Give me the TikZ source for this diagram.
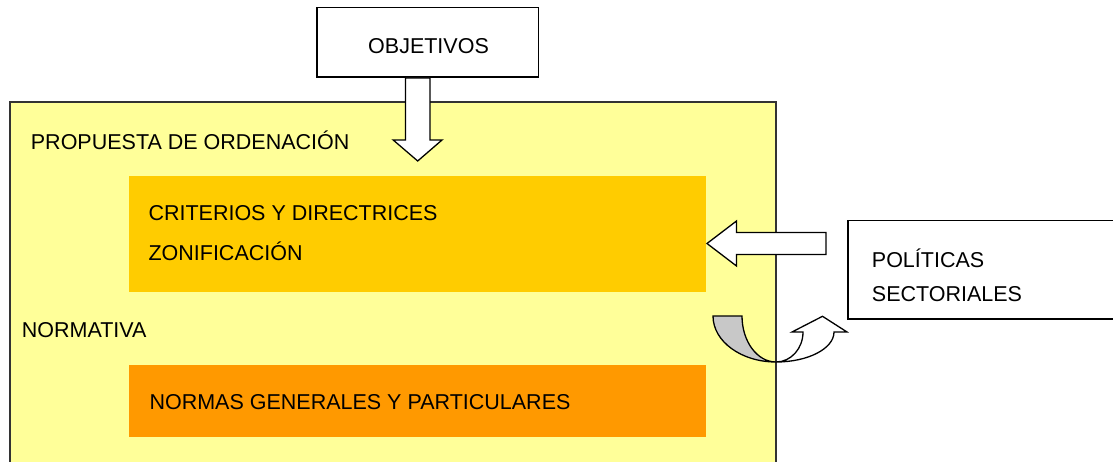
\documentclass[tikz,border=0pt]{standalone}
\usepackage{fontspec}
\setmainfont{Liberation Sans}
\definecolor{yellowfill}{HTML}{FFFF99}
\definecolor{critfill}{HTML}{FFCC00}
\definecolor{normfill}{HTML}{FF9900}
\definecolor{grayfill}{HTML}{C8C8C8}
\begin{document}
\begin{tikzpicture}[x=1pt,y=-1pt,
  lbl/.style={anchor=base west, inner sep=0pt, font=\fontsize{21.5}{25}\selectfont},
  area/.style={anchor=north west, inner sep=0pt, outer sep=0pt},
  frame/.style={area, draw=black, line width=1.5pt, fill=white},
  blockarrow/.style={draw=black, line width=1.3pt, fill=white, line join=miter}]
\useasboundingbox (0,0) rectangle (1113,462);
\fill[white] (0,0) rectangle (1113,462);
% main area
\node[area, draw=black!80, line width=1.5pt, fill=yellowfill, minimum width=766pt, minimum height=390pt] (main) at (10,102) {};
\node[area, fill=critfill, minimum width=577pt, minimum height=116pt] (crit) at (129,176) {};
\node[area, fill=normfill, minimum width=577pt, minimum height=72pt] (norm) at (129,365) {};
% outer boxes
\node[frame, minimum width=221.5pt, minimum height=69.5pt] (obj) at (317,7.5) {};
\node[frame, minimum width=280pt, minimum height=98.5pt] (pol) at (848,220.5) {};
% texts
\node[lbl] (tobj) at (368,53.3) {OBJETIVOS};
\node[lbl] (tprop) at (30.7,149.3) {PROPUESTA DE ORDENACIÓN};
\node[lbl] (tcrit) at (148.3,221) {CRITERIOS Y DIRECTRICES};
\node[lbl] (tzon) at (148.3,260.7) {ZONIFICACIÓN};
\node[lbl] (tnorma) at (21.7,337.3) {NORMATIVA};
\node[lbl] (tnormas) at (149.3,409.3) {NORMAS GENERALES Y PARTICULARES};
\node[lbl] (tpol) at (871.7,267.3) {POLÍTICAS};
\node[lbl] (tsec) at (871.7,301.7) {SECTORIALES};
% down arrow from OBJETIVOS
\draw[blockarrow] (405.5,78) -- (430,78) -- (430,140) -- (442,140) -- (417.7,161) -- (393.2,140) -- (405.5,140) -- cycle;
% left arrow from POLITICAS
\draw[blockarrow] (826,232.5) -- (736.5,232.5) -- (736.5,221) -- (707,243.5) -- (736.5,266) -- (736.5,254.5) -- (826,254.5) -- cycle;
% curved gray shape
\draw[blockarrow, fill=grayfill] (713,316) -- (742,316)
  .. controls (742,341.4) and (757.2,362) .. (776,362)
  .. controls (741.2,362) and (713,341.4) .. (713,316) -- cycle;
% curved white up arrow
\draw[blockarrow] (776,362)
  .. controls (808,362) and (834,348.6) .. (834,332)
  -- (847,332) -- (822.5,316.3) -- (792,332) -- (803,332)
  .. controls (803,348.6) and (790.9,362) .. (776,362) -- cycle;
\end{tikzpicture}
\end{document}
